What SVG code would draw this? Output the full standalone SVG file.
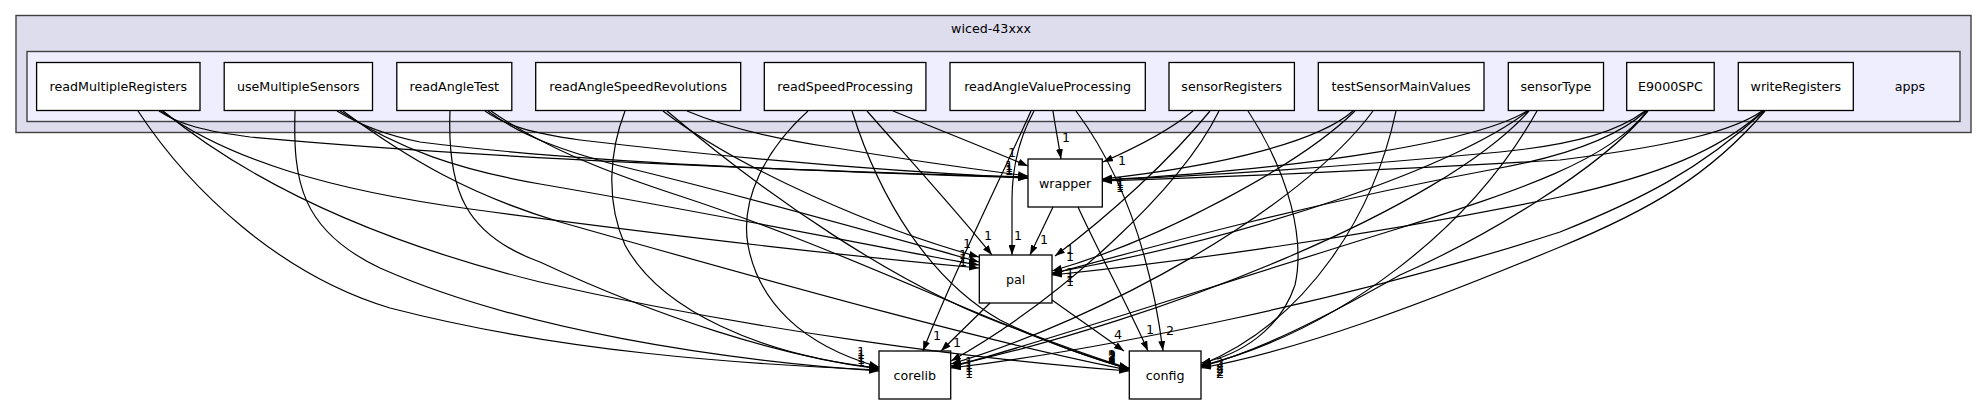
<svg xmlns="http://www.w3.org/2000/svg" width="1987" height="404" viewBox="0 0 1987 404">
<style>
text{font-family:"DejaVu Sans","Liberation Sans",sans-serif;font-size:12.67px;fill:#000;text-anchor:middle}
.node rect{fill:#fff;stroke:#000;stroke-width:1.3}
.edges path{fill:none;stroke:#000;stroke-width:1.2;marker-end:url(#ah)}
.outer{fill:#ddddee;stroke:#404040;stroke-width:1.4}
.inner{fill:#eeeeff;stroke:#404040;stroke-width:1.4}
</style>
<defs>
<marker id="ah" viewBox="0 0 10 7" refX="10" refY="3.5" markerWidth="10" markerHeight="7" markerUnits="userSpaceOnUse" orient="auto">
<path d="M0,0 L10,3.5 L0,7 z" fill="#000"/>
</marker>
</defs>
<rect width="1987" height="404" fill="#fff"/>
<g id="cluster-wiced">
<rect class="outer" x="16" y="15.5" width="1955" height="117"/>
<text x="991" y="33">wiced-43xxx</text>
</g>
<g id="cluster-apps">
<rect class="inner" x="27" y="51.5" width="1933" height="70"/>
<text x="1910" y="91">apps</text>
</g>
<g id="readMultipleRegisters" class="node"><rect x="36.6" y="62.5" width="163.4" height="48"/><text x="118.3" y="91">readMultipleRegisters</text></g>
<g id="useMultipleSensors" class="node"><rect x="224.2" y="62.5" width="148.3" height="48"/><text x="298.3" y="91">useMultipleSensors</text></g>
<g id="readAngleTest" class="node"><rect x="396.8" y="62.5" width="115" height="48"/><text x="454.3" y="91">readAngleTest</text></g>
<g id="readAngleSpeedRevolutions" class="node"><rect x="535.7" y="62.5" width="205" height="48"/><text x="638.2" y="91">readAngleSpeedRevolutions</text></g>
<g id="readSpeedProcessing" class="node"><rect x="764.3" y="62.5" width="161.6" height="48"/><text x="845.1" y="91">readSpeedProcessing</text></g>
<g id="readAngleValueProcessing" class="node"><rect x="950" y="62.5" width="195.3" height="48"/><text x="1047.6" y="91">readAngleValueProcessing</text></g>
<g id="sensorRegisters" class="node"><rect x="1169" y="62.5" width="125.4" height="48"/><text x="1231.7" y="91">sensorRegisters</text></g>
<g id="testSensorMainValues" class="node"><rect x="1318.3" y="62.5" width="165.7" height="48"/><text x="1401.1" y="91">testSensorMainValues</text></g>
<g id="sensorType" class="node"><rect x="1508.3" y="62.5" width="95.2" height="48"/><text x="1555.9" y="91">sensorType</text></g>
<g id="E9000SPC" class="node"><rect x="1626.7" y="62.5" width="87.5" height="48"/><text x="1670.4" y="91">E9000SPC</text></g>
<g id="writeRegisters" class="node"><rect x="1738.3" y="62.5" width="115" height="48"/><text x="1795.8" y="91">writeRegisters</text></g>
<g id="wrapper" class="node"><rect x="1028" y="159" width="74.3" height="48"/><text x="1065.1" y="187.5">wrapper</text></g>
<g id="pal" class="node"><rect x="979.3" y="255" width="72.7" height="48"/><text x="1015.6" y="283.5">pal</text></g>
<g id="corelib" class="node"><rect x="879" y="351" width="71.7" height="48"/><text x="914.8" y="379.5">corelib</text></g>
<g id="config" class="node"><rect x="1129.3" y="351" width="71.7" height="48"/><text x="1165.1" y="379.5">config</text></g>
<g id="connectors" class="edges">
<path d="M138,111 C190,190 280,275 390,308 C560,352 740,364 879,370"/>
<path d="M159,111 C180,125 205,131 250,137 C500,160 850,172 1028,177"/>
<path d="M161,111 C230,160 330,190 470,209 C700,240 870,258 979,268"/>
<path d="M163,111 C260,190 390,245 540,282 C750,330 980,360 1129,371"/>
<path d="M295,111 C293,180 300,230 380,268 C520,330 720,360 879,371"/>
<path d="M337,111 C360,125 385,135 420,142 C600,165 850,172 1028,178"/>
<path d="M340,111 C400,150 460,170 540,184 C750,220 900,252 979,265"/>
<path d="M343,111 C410,160 470,195 560,222 C800,290 1000,345 1129,370"/>
<path d="M450,111 C447,190 465,235 540,262 C660,318 780,356 879,369"/>
<path d="M485,111 C505,125 530,133 580,140 C750,160 900,172 1028,178"/>
<path d="M488,111 C520,135 560,150 620,166 C780,205 900,240 979,262"/>
<path d="M491,111 C540,145 600,170 680,196 C860,255 1010,335 1129,369"/>
<path d="M625,111 C610,150 605,200 625,245 C660,310 760,355 879,368"/>
<path d="M687,111 C720,125 770,138 830,147 C920,162 980,170 1028,176"/>
<path d="M663,111 C740,170 880,230 979,257"/>
<path d="M667,111 C760,190 900,290 1020,330 C1060,345 1100,360 1129,368"/>
<path d="M808,111 C765,150 740,200 748,245 C758,300 800,345 879,367"/>
<path d="M893,111 C940,130 990,150 1028,166"/>
<path d="M867,111 C910,160 960,215 992,255"/>
<path d="M852,111 C880,200 930,280 1000,320 C1050,345 1100,360 1129,369"/>
<path d="M1053,111 C1055,125 1058,140 1061,159"/>
<path d="M1034,111 C1018,140 1012,170 1012,200 L1012,255"/>
<path d="M1031,111 C1000,180 950,280 923,351"/>
<path d="M1076,111 C1120,170 1150,250 1163,351"/>
<path d="M1053,207 L1030,255"/>
<path d="M1078,207 C1100,255 1130,310 1148,351"/>
<path d="M990,303 L941,351"/>
<path d="M1052,300 L1124,351"/>
<path d="M1193,111 C1170,130 1135,148 1103,162"/>
<path d="M1210,111 C1170,160 1110,215 1055,256"/>
<path d="M1219,111 C1180,190 1060,300 951,361"/>
<path d="M1248,111 C1290,175 1305,240 1295,285 C1280,330 1240,355 1201,363"/>
<path d="M1353,111 C1320,140 1230,165 1102,179"/>
<path d="M1355,111 C1300,165 1160,240 1052,271"/>
<path d="M1373,111 C1300,210 1100,320 951,364"/>
<path d="M1396,111 C1375,210 1310,320 1201,365"/>
<path d="M1527,111 C1480,140 1320,168 1102,180"/>
<path d="M1528,111 C1460,165 1260,235 1052,273"/>
<path d="M1529,111 C1440,210 1160,320 951,366"/>
<path d="M1537,111 C1470,230 1340,330 1201,366"/>
<path d="M1645,111 C1620,130 1580,144 1500,152 C1330,168 1200,176 1102,180"/>
<path d="M1646,111 C1620,135 1570,155 1500,168 C1300,205 1140,250 1052,274"/>
<path d="M1647,111 C1610,160 1520,190 1400,228 C1200,290 1050,340 951,367"/>
<path d="M1648,111 C1600,170 1480,240 1400,275 C1320,320 1260,350 1201,367"/>
<path d="M1762,111 C1735,130 1680,145 1560,160 C1350,172 1200,178 1102,181"/>
<path d="M1763,111 C1720,150 1660,175 1560,197 C1350,240 1150,265 1052,275"/>
<path d="M1764,111 C1700,170 1640,200 1560,232 C1350,300 1100,350 951,368"/>
<path d="M1765,111 C1710,175 1650,210 1560,247 C1420,305 1300,350 1201,368"/>
</g>
<g id="edge-labels">
<text x="1066" y="142">1</text>
<text x="1012" y="157">1</text>
<text x="1009" y="170">1</text><text x="1009" y="172">1</text><text x="1009" y="174">1</text><text x="1009" y="175">1</text>
<text x="1122" y="165">1</text>
<text x="1120" y="186">1</text><text x="1120" y="188">1</text><text x="1120" y="190">1</text><text x="1120" y="192">1</text>
<text x="988" y="240">1</text>
<text x="1018" y="240">1</text>
<text x="1044" y="244">1</text>
<text x="967" y="248">1</text>
<text x="963" y="259">1</text><text x="963" y="263">1</text><text x="963" y="266">1</text>
<text x="1070" y="254">1</text>
<text x="1070" y="261">1</text><text x="1070" y="277">1</text><text x="1070" y="282">1</text><text x="1070" y="286">1</text>
<text x="937" y="340">1</text>
<text x="957" y="347">1</text>
<text x="861" y="356">1</text><text x="861" y="359">1</text><text x="861" y="362">1</text><text x="861" y="364">1</text><text x="861" y="366">1</text>
<text x="969" y="366">1</text><text x="969" y="369">1</text><text x="969" y="372">1</text><text x="969" y="375">1</text><text x="969" y="378">1</text>
<text x="1118" y="339">4</text>
<text x="1150" y="334">1</text>
<text x="1170" y="335">2</text>
<text x="1112" y="359">2</text><text x="1112" y="360">2</text><text x="1112" y="361">2</text><text x="1112" y="362">2</text><text x="1112" y="363">2</text>
<text x="1220" y="367">2</text><text x="1220" y="370">2</text><text x="1220" y="373">2</text><text x="1220" y="376">2</text><text x="1220" y="378">2</text>
</g>
</svg>
